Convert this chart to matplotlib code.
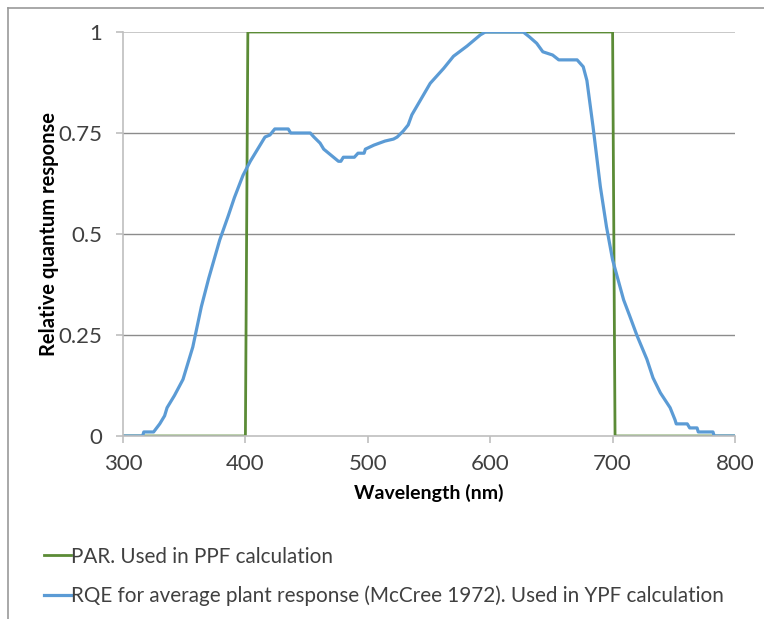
import matplotlib
matplotlib.use("Agg")
import matplotlib.pyplot as plt
from matplotlib.lines import Line2D

plt.rcParams['font.family'] = ['Lato', 'DejaVu Sans']

# PAR box (400-700 nm)
par_nm = [300, 400, 402, 700, 702, 800]
par_val = [0, 0, 1, 1, 0, 0]

# McCree 1972 relative quantum efficiency
rqe_nm = [300, 316, 317, 325, 330, 334, 336, 342, 349, 357, 364, 370, 379, 386,
          391, 398, 404, 410, 416, 420, 424, 435, 437, 453, 456, 461, 464, 468,
          472, 476, 478, 480, 489, 492, 497, 498, 505, 514, 521, 524, 529, 533,
          536, 551, 562, 570, 581, 592, 596, 627, 632, 638, 643, 651, 656, 671,
          676, 679, 684, 690, 695, 700, 709, 714, 720, 728, 733, 739, 747, 751,
          752, 761, 763, 769, 770, 782, 783, 800]
rqe_val = [0, 0, 0.01, 0.01, 0.03, 0.05, 0.07, 0.10, 0.14, 0.22, 0.32, 0.39,
           0.485, 0.545, 0.59, 0.645, 0.68, 0.71, 0.74, 0.745, 0.76, 0.76, 0.75,
           0.75, 0.74, 0.725, 0.71, 0.70, 0.69, 0.68, 0.68, 0.69, 0.69, 0.70,
           0.70, 0.71, 0.72, 0.73, 0.735, 0.74, 0.755, 0.77, 0.795, 0.873, 0.91,
           0.94, 0.965, 0.993, 1.0, 1.0, 0.988, 0.972, 0.951, 0.943, 0.931,
           0.931, 0.914, 0.88, 0.766, 0.617, 0.518, 0.436, 0.337, 0.297, 0.248,
           0.19, 0.144, 0.107, 0.07, 0.04, 0.03, 0.03, 0.02, 0.02, 0.01, 0.01,
           0, 0]

x_ticks = [300, 400, 500, 600, 700, 800]
y_ticks = [0, 0.25, 0.5, 0.75, 1]
y_ticklabels = ['0', '0.25', '0.5', '0.75', '1']

fig = plt.figure(figsize=(7.64, 6.19), dpi=100)
ax = fig.add_axes([123/764, 1 - 436/619, (735 - 123)/764, (436 - 32)/619])

for y in y_ticks[1:-1]:
    ax.axhline(y, color='#8c8c8c', lw=1, zorder=0)
ax.axhline(1, color='#bfbfbf', lw=1.2, zorder=0)

l1, = ax.plot(par_nm, par_val, color='#5b8b36', lw=2.0, label='PAR. Used in PPF calculation')
l2, = ax.plot(rqe_nm, rqe_val, color='#5b9bd5', lw=2.3,
              label='RQE for average plant response (McCree 1972). Used in YPF calculation')

ax.set_xlim(300, 800)
ax.set_ylim(0, 1)
ax.set_xticks(x_ticks)
ax.set_yticks(y_ticks)
ax.set_yticklabels(y_ticklabels)
for s in ['top', 'right']:
    ax.spines[s].set_visible(False)
for s in ['left', 'bottom']:
    ax.spines[s].set_color('#bfbfbf')
    ax.spines[s].set_linewidth(1.2)
ax.tick_params(axis='both', colors='#bfbfbf', labelcolor='#404040', length=5,
               width=1.2, labelsize=16)
ax.tick_params(axis='y', pad=10)
ax.tick_params(axis='x', pad=8)

ax.set_xlabel('Wavelength (nm)', fontsize=14, fontweight='bold', labelpad=7)
ax.set_ylabel('Relative quantum response', fontsize=14.5, fontweight='bold')
ax.yaxis.set_label_coords(-0.104, 0.5)

fig.legend(handles=[l1, l2], loc='upper left', bbox_to_anchor=(25/764, 1 - 528/619),
           frameon=False, fontsize=14.9, handlelength=1.3, handletextpad=0.0,
           labelspacing=0.9, labelcolor='#404040')

# chart area border
fig.add_artist(Line2D([8/764, 8/764], [0, 1 - 8/619], color='#999999', lw=1.2))
fig.add_artist(Line2D([8/764, 1], [1 - 8/619, 1 - 8/619], color='#999999', lw=1.2))

fig.savefig('out.png', dpi=100)
